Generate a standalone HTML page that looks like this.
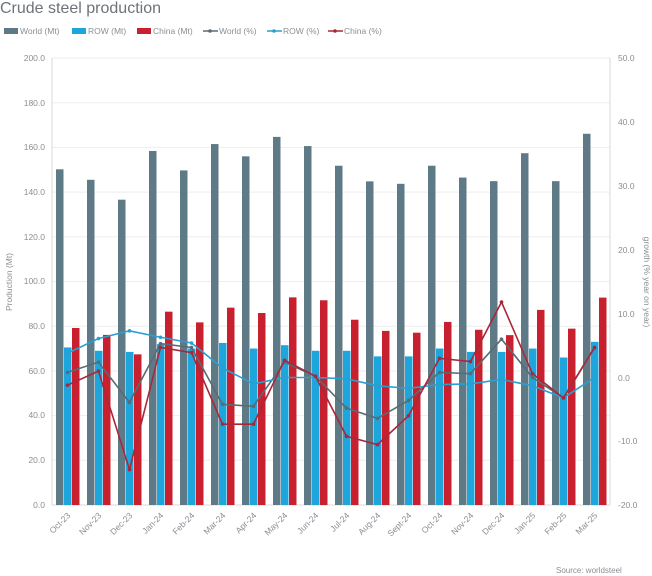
<!DOCTYPE html>
<html><head><meta charset="utf-8"><style>
body{margin:0;background:#fff;font-family:"Liberation Sans",sans-serif}
svg{display:block}
text{font-family:"Liberation Sans",sans-serif;fill:#8a8f94}
</style></head><body>
<svg id="c" width="652" height="576" xmlns="http://www.w3.org/2000/svg">
<text x="0" y="13" style="font-size:16px;fill:#6d7378">Crude steel production</text>
<g style="font-size:8.5px">
<rect x="4" y="28" width="14" height="6" fill="#5f7a87"/><text x="20" y="34">World (Mt)</text>
<rect x="72" y="28" width="14" height="6" fill="#1ea5dc"/><text x="88" y="34">ROW (Mt)</text>
<rect x="137" y="28" width="14" height="6" fill="#c8202f"/><text x="153" y="34">China (Mt)</text>
<line x1="203" y1="31" x2="218" y2="31" stroke="#5a6b73" stroke-width="1.5"/><circle cx="210" cy="31" r="1.8" fill="#5a6b73"/><text x="219" y="34">World (%)</text>
<line x1="267" y1="31" x2="282" y2="31" stroke="#2a9fd0" stroke-width="1.5"/><circle cx="274" cy="31" r="1.8" fill="#2a9fd0"/><text x="283" y="34">ROW (%)</text>
<line x1="328" y1="31" x2="343" y2="31" stroke="#a8283a" stroke-width="1.5"/><circle cx="335" cy="31" r="1.8" fill="#a8283a"/><text x="344" y="34">China (%)</text>
</g>
<g id="grid" stroke="#eeeeee" stroke-width="1">
<line x1="52" x2="610" y1="58" y2="58"/><line x1="52" x2="610" y1="102.7" y2="102.7"/><line x1="52" x2="610" y1="147.4" y2="147.4"/><line x1="52" x2="610" y1="192.1" y2="192.1"/><line x1="52" x2="610" y1="236.8" y2="236.8"/><line x1="52" x2="610" y1="281.5" y2="281.5"/><line x1="52" x2="610" y1="326.2" y2="326.2"/><line x1="52" x2="610" y1="370.9" y2="370.9"/><line x1="52" x2="610" y1="415.6" y2="415.6"/><line x1="52" x2="610" y1="460.3" y2="460.3"/>
</g>
<line x1="52" y1="58" x2="52" y2="505" stroke="#d8d8d8"/>
<line x1="610" y1="58" x2="610" y2="505" stroke="#d8d8d8"/>
<line x1="52" y1="505" x2="610" y2="505" stroke="#d8d8d8"/>
<g style="font-size:8.5px" text-anchor="end">
<text x="45" y="61">200.0</text><text x="45" y="106">180.0</text><text x="45" y="150">160.0</text><text x="45" y="195">140.0</text><text x="45" y="240">120.0</text><text x="45" y="284">100.0</text><text x="45" y="329">80.0</text><text x="45" y="374">60.0</text><text x="45" y="418">40.0</text><text x="45" y="463">20.0</text><text x="45" y="508">0.0</text>
</g>
<g style="font-size:8.5px">
<text x="618" y="61">50.0</text><text x="618" y="125">40.0</text><text x="618" y="189">30.0</text><text x="618" y="253">20.0</text><text x="618" y="317">10.0</text><text x="618" y="381">0.0</text><text x="618" y="444">-10.0</text><text x="618" y="508">-20.0</text>
</g>
<text transform="translate(12,282) rotate(-90)" text-anchor="middle" style="font-size:8.5px">Production (Mt)</text>
<text transform="translate(644,282) rotate(90)" text-anchor="middle" style="font-size:8.5px">growth (% year on year)</text>
<g id="bars"></g><g id="lines"></g>
<g id="xl" style="font-size:8.5px" text-anchor="end">
<text transform="translate(71,516) rotate(-45)">Oct-23</text>
<text transform="translate(102,516) rotate(-45)">Nov-23</text>
<text transform="translate(133,516) rotate(-45)">Dec-23</text>
<text transform="translate(164,516) rotate(-45)">Jan-24</text>
<text transform="translate(195,516) rotate(-45)">Feb-24</text>
<text transform="translate(226,516) rotate(-45)">Mar-24</text>
<text transform="translate(257,516) rotate(-45)">Apr-24</text>
<text transform="translate(288,516) rotate(-45)">May-24</text>
<text transform="translate(319,516) rotate(-45)">Jun-24</text>
<text transform="translate(350,516) rotate(-45)">Jul-24</text>
<text transform="translate(381,516) rotate(-45)">Aug-24</text>
<text transform="translate(412,516) rotate(-45)">Sept-24</text>
<text transform="translate(443,516) rotate(-45)">Oct-24</text>
<text transform="translate(474,516) rotate(-45)">Nov-24</text>
<text transform="translate(505,516) rotate(-45)">Dec-24</text>
<text transform="translate(536,516) rotate(-45)">Jan-25</text>
<text transform="translate(567,516) rotate(-45)">Feb-25</text>
<text transform="translate(598,516) rotate(-45)">Mar-25</text>
</g>
<text x="556" y="573" style="font-size:8px">Source: worldsteel</text>
</svg>
<script>
var W=[150.2,145.5,136.6,158.4,149.7,161.5,156.0,164.7,160.6,151.8,144.8,143.7,151.8,146.5,144.9,157.4,144.9,166.1];
var R=[70.5,69,68.5,72,70,72.5,70,71.5,69,69,66.5,66.5,70,68.5,68.5,70,66,73];
var C=[79.2,76.1,67.4,86.5,81.7,88.3,85.9,92.9,91.6,82.9,77.9,77.1,81.9,78.4,76.0,87.3,78.9,92.8];
var Wp=[0.8,2.4,-3.9,5.3,4.7,-4.2,-4.5,2.4,0.2,-4.8,-6.4,-3.6,0.8,0.6,6.0,0,-3.2,4.6];
var Rp=[3.8,6.1,7.3,6.3,5.4,1.5,-1,0,0,-0.2,-1.3,-1.7,-1.1,-1,-0.3,-1.3,-3.2,0];
var Cp=[-1.2,1,-14.4,4.7,3.9,-7.3,-7.3,2.7,0.2,-9.2,-10.5,-6,3,2.5,11.8,0.6,-3.2,4.7];
var ns="http://www.w3.org/2000/svg",b=document.getElementById('bars'),l=document.getElementById('lines');
function el(t,a,p){var e=document.createElementNS(ns,t);for(var k in a)e.setAttribute(k,a[k]);p.appendChild(e);}
function yl(v){return 505-v*2.235;}function yr(v){return 377.5-v*6.39;}
for(var i=0;i<18;i++){var cx=52+31*i+15.5;
[[W,'#5f7a87'],[R,'#1ea5dc'],[C,'#c8202f']].forEach(function(s,j){el('rect',{x:cx-11.5+j*8,y:yl(s[0][i]),width:7.5,height:s[0][i]*2.235,fill:s[1]},b);});}
[[Wp,'#5a6b73'],[Rp,'#2a9fd0'],[Cp,'#a8283a']].forEach(function(s){var pts=s[0].map(function(v,i){return (52+31*i+15.5)+','+yr(v);}).join(' ');
el('polyline',{points:pts,fill:'none',stroke:s[1],'stroke-width':1.6},l);
s[0].forEach(function(v,i){el('circle',{cx:52+31*i+15.5,cy:yr(v),r:1.8,fill:s[1]},l);});});
</script>
</body></html>
